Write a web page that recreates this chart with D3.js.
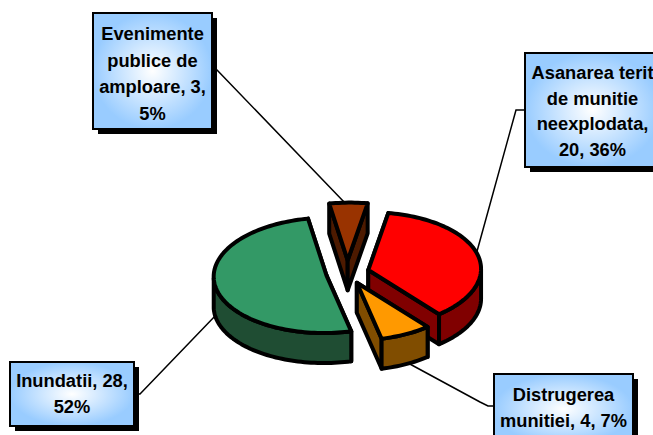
<!DOCTYPE html>
<html>
<head>
<meta charset="utf-8">
<script src="https://cdnjs.cloudflare.com/ajax/libs/d3/7.8.5/d3.min.js"></script>
<style>
html, body { margin: 0; padding: 0; background: #fff; overflow: hidden; }
svg { display: block; }
text { font-family: "Liberation Sans", Arial, sans-serif; font-weight: bold; font-size: 18.3px; fill: #000; text-anchor: middle; }
</style>
</head>
<body>
<svg id="chart" width="653" height="435"></svg>
<script>
// data, in sheet order (clockwise from the top)
var categories = ['Asanarea teritoriilor', 'Distrugerea munitiei', 'Inundatii', 'Evenimente publice'];
var values = [20, 4, 28, 3];
var labelLines = [
    ['Asanarea terit', 'de munitie', 'neexplodata,', '20, 36%'],
    ['Distrugerea', 'munitiei, 4, 7%'],
    ['Inundatii, 28,', '52%'],
    ['Evenimente', 'publice de', 'amploare, 3,', '5%']
];
var topColors = ['#ff0000', '#ff9900', '#339966', '#993300'];
var sideColors = ['#800000', '#804d00', '#1f4d33', '#4d1a00'];

// layout
var width = 653, height = 435;
var center = { x: 347.5, y: 273 };
var explode = [0.19, 0.19, 0.19, 0.22];
var depth = 30;
var drawOrder = [3, 0, 2, 1];
var boxes = [
    { x: 525, y: 53, w: 135, h: 114, baselines: [79, 105, 130, 156], leader: [[525, 110], [516, 110], [476, 255]] },
    { x: 494, y: 374, w: 139, h: 70, baselines: [401, 427], leader: [[494, 406], [488, 406], [480, 402], [408, 363]] },
    { x: 10, y: 362, w: 124, h: 64, baselines: [387, 413], leader: [[134, 394], [140, 394], [216, 315]] },
    { x: 93, y: 13, w: 119, h: 116, baselines: [40, 67, 93, 120], leader: [[212, 70], [217, 70], [345, 203]] }
];

var svg = d3.select('#chart');

var gradient = svg.append('defs').append('radialGradient').attr('id', 'labelFill');
gradient.append('stop').attr('offset', '0%').attr('stop-color', '#ffffff');
gradient.append('stop').attr('offset', '100%').attr('stop-color', '#99ccff');

var arcs = d3.pie().sort(null)(values);

// The pie sits on a skewed ellipse, so a unit disc is mapped through these two axes
var xAxisVec = { x: 111, y: 9 };
var yAxisVec = { x: 20, y: -57 };

function project(theta, r, origin) {
    return {
        x: origin.x + r * (xAxisVec.x * Math.sin(theta) + yAxisVec.x * Math.cos(theta)),
        y: origin.y + r * (xAxisVec.y * Math.sin(theta) + yAxisVec.y * Math.cos(theta))
    };
}

function arcPoints(start, end, origin) {
    var n = Math.max(2, Math.ceil((end - start) / 0.03));
    return d3.range(n + 1).map(function (i) {
        return project(start + (end - start) * i / n, 1, origin);
    });
}

function isFront(theta) {
    return xAxisVec.x * Math.cos(theta) - yAxisVec.x * Math.sin(theta) < 0;
}

function down(p) {
    return { x: p.x, y: p.y + depth };
}

var line = d3.line().x(function (d) { return d.x; }).y(function (d) { return d.y; }).curve(d3.curveLinearClosed);
var leaderLine = d3.line();

// Leaders go under everything
boxes.forEach(function (box) {
    svg.append('path')
        .attr('d', leaderLine(box.leader))
        .attr('fill', 'none')
        .attr('stroke', '#000')
        .attr('stroke-width', 1.5);
});

function drawFace(points, color) {
    svg.append('path')
        .attr('d', line(points))
        .attr('fill', color)
        .attr('stroke', '#000')
        .attr('stroke-width', 4)
        .attr('stroke-linejoin', 'round');
}

drawOrder.forEach(function (idx) {
    var slice = arcs[idx];
    var mid = (slice.startAngle + slice.endAngle) / 2;
    var origin = project(mid, explode[idx], center);
    var outline = arcPoints(slice.startAngle, slice.endAngle, origin);
    var first = outline[0], last = outline[outline.length - 1];

    // cut faces
    drawFace([origin, first, down(first), down(origin)], sideColors[idx]);
    drawFace([origin, last, down(last), down(origin)], sideColors[idx]);

    // outer wall, only the run of the rim that faces the viewer
    var front = outline.filter(function (p, i) {
        return isFront(slice.startAngle + (slice.endAngle - slice.startAngle) * i / (outline.length - 1));
    });
    if (front.length > 1) {
        drawFace(front.concat(front.slice().reverse().map(down)), sideColors[idx]);
    }

    // top
    drawFace([origin].concat(outline), topColors[idx]);
});

// Labels
boxes.forEach(function (box, idx) {
    svg.append('rect')
        .attr('x', box.x + 5)
        .attr('y', box.y + 5)
        .attr('width', box.w)
        .attr('height', box.h)
        .attr('fill', '#000');
    svg.append('rect')
        .attr('x', box.x)
        .attr('y', box.y)
        .attr('width', box.w)
        .attr('height', box.h)
        .attr('fill', 'url(#labelFill)')
        .attr('stroke', '#000')
        .attr('stroke-width', 2);
    labelLines[idx].forEach(function (txt, i) {
        svg.append('text')
            .attr('x', box.x + box.w / 2)
            .attr('y', box.baselines[i])
            .text(txt);
    });
});
</script>
</body>
</html>
